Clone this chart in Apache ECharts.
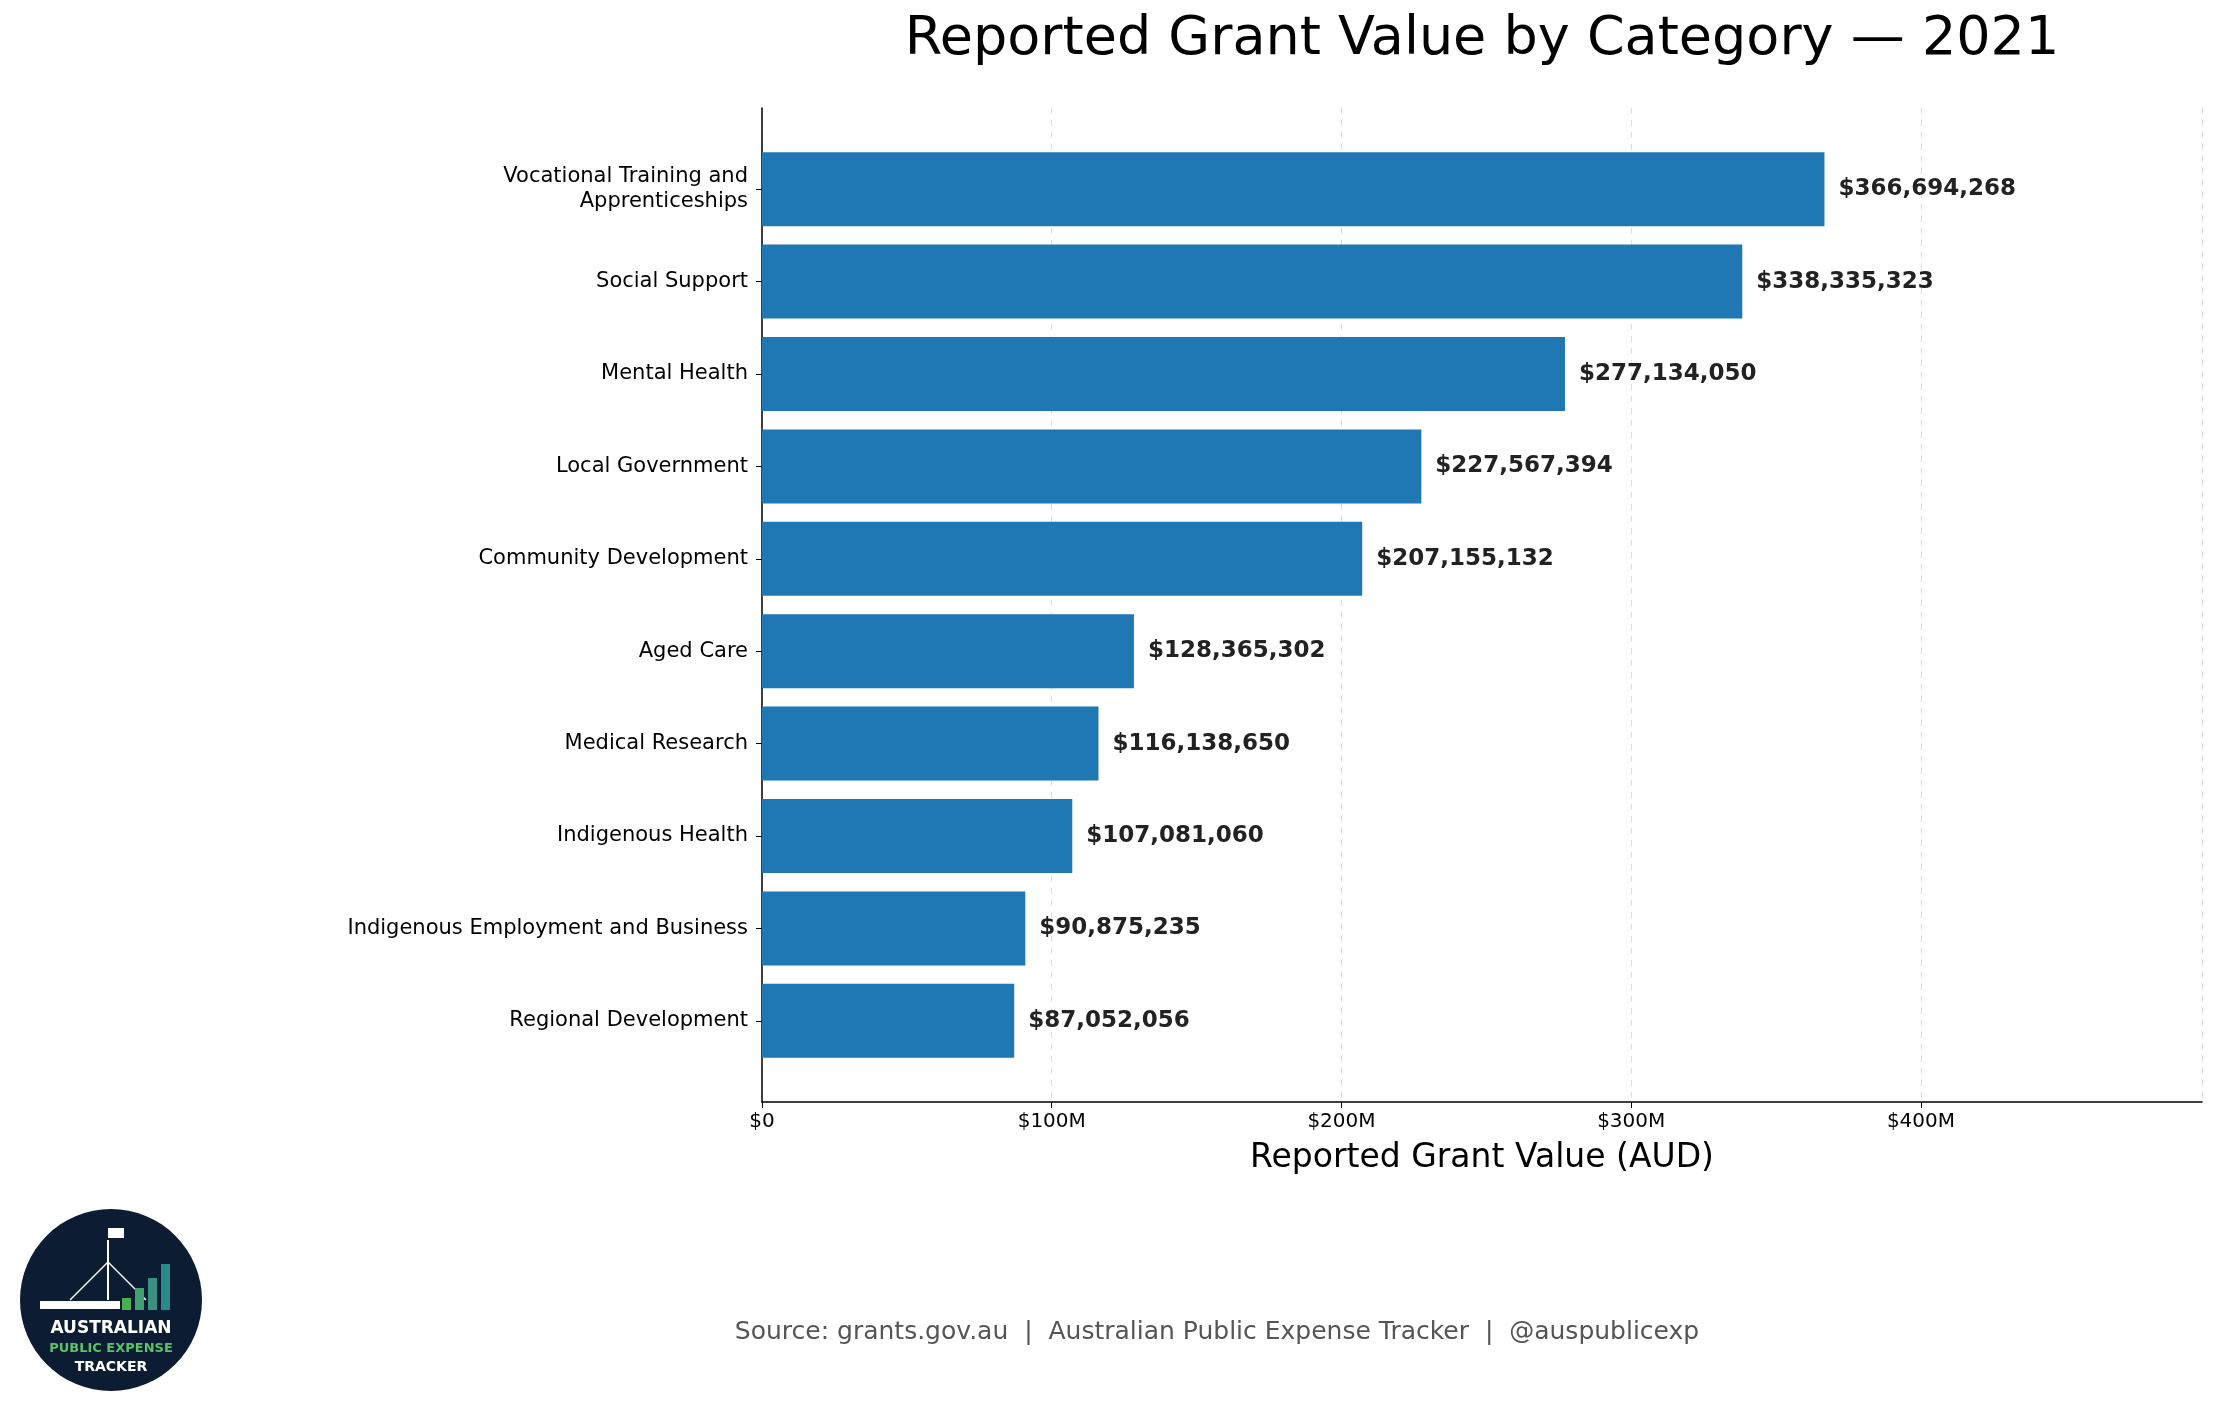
<!DOCTYPE html>
<html><head><meta charset="utf-8">
<script src="https://cdn.jsdelivr.net/npm/echarts@6/dist/echarts.min.js"></script>
<style>html,body{margin:0;padding:0;background:#fff}#c{width:2215px;height:1405px}</style>
</head><body><div id="c"></div>
<script>
const categories = ["Vocational Training and\nApprenticeships","Social Support","Mental Health","Local Government","Community Development","Aged Care","Medical Research","Indigenous Health","Indigenous Employment and Business","Regional Development"];
const values = [366694268,338335323,277134050,227567394,207155132,128365302,116138650,107081060,90875235,87052056];
const xMax = 497e6, xStep = 100e6;
const font = "DejaVu Sans";
const fmtTick = v => v===0 ? '$0' : '$'+(v/1e6)+'M';
const chart = echarts.init(document.getElementById('c'));
chart.setOption({
  animation:false,
  textStyle:{fontFamily:font},
  title:{text:"Reported Grant Value by Category \u2014 2021",left:1477,top:8,textAlign:'center',
    textStyle:{fontSize:54,fontWeight:'normal',color:'#000',fontFamily:font}},
  grid:[{left:762,right:13,top:143,bottom:338},{left:762,right:13,top:108,bottom:303}],
  xAxis:[
    {gridIndex:0,type:'value',min:0,max:xMax,interval:xStep,offset:35,
      name:"Reported Grant Value (AUD)",nameLocation:'middle',nameGap:40,
      nameTextStyle:{fontSize:33,color:'#000',fontFamily:font},
      axisLine:{show:true,lineStyle:{color:'#000',width:1.5}},
      axisTick:{show:true,length:6,lineStyle:{color:'#000'}},
      axisLabel:{fontSize:20,color:'#000',margin:10,showMaxLabel:false,formatter:fmtTick},
      splitLine:{show:false}},
    {gridIndex:1,type:'value',min:0,max:xMax,interval:xStep,show:true,
      axisLine:{show:false},axisTick:{show:false},axisLabel:{show:false},
      splitLine:{show:true,lineStyle:{color:'#ddd',type:[6,6],width:1}}}
  ],
  yAxis:[
    {gridIndex:0,type:'category',inverse:true,data:categories,
      axisLine:{show:false},
      axisTick:{show:true,length:6,alignWithLabel:true,lineStyle:{color:'#000'}},
      axisLabel:{fontSize:21,color:'#000',margin:14,lineHeight:25}},
    {gridIndex:1,type:'value',min:0,max:1,
      axisLine:{show:true,lineStyle:{color:'#000',width:1.5}},
      axisTick:{show:false},axisLabel:{show:false},splitLine:{show:false}}
  ],
  series:[{type:'bar',xAxisIndex:0,yAxisIndex:0,barWidth:74,itemStyle:{color:'#1f77b4'},
    data:values,
    label:{show:true,position:'right',distance:14,fontSize:23,fontWeight:'bold',color:'#222',
      formatter:p=>'$'+p.value.toLocaleString('en-US')}}],
  graphic:[
    {type:'text',style:{text:"Source: grants.gov.au  |  Australian Public Expense Tracker  |  @auspublicexp",x:1217,y:1332,align:'center',verticalAlign:'middle',fontSize:25,fill:'#555',fontFamily:font}},
    {type:'group',children:[
      {type:'circle',shape:{cx:111,cy:1300,r:91},style:{fill:'#0b1c33'}},
      {type:'rect',shape:{x:40,y:1301,width:80,height:8},style:{fill:'#fff'}},
      {type:'line',shape:{x1:108,y1:1240,x2:108,y2:1300},style:{stroke:'#fff',lineWidth:2}},
      {type:'rect',shape:{x:108,y:1228,width:16,height:10},style:{fill:'#fff'}},
      {type:'line',shape:{x1:108,y1:1262,x2:70,y2:1300},style:{stroke:'#fff',lineWidth:1.5}},
      {type:'line',shape:{x1:108,y1:1262,x2:146,y2:1300},style:{stroke:'#fff',lineWidth:1.5}},
      {type:'rect',shape:{x:122,y:1298,width:9,height:12},style:{fill:'#4caf50'}},
      {type:'rect',shape:{x:135,y:1288,width:9,height:22},style:{fill:'#43a070'}},
      {type:'rect',shape:{x:148,y:1278,width:9,height:32},style:{fill:'#3a9080'}},
      {type:'rect',shape:{x:161,y:1264,width:9,height:46},style:{fill:'#2a8a8a'}},
      {type:'text',style:{text:'AUSTRALIAN',x:111,y:1329,align:'center',verticalAlign:'middle',fontSize:17,fontWeight:'bold',fill:'#fff',fontFamily:font}},
      {type:'text',style:{text:'PUBLIC EXPENSE',x:111,y:1349,align:'center',verticalAlign:'middle',fontSize:13,fontWeight:'bold',fill:'#5cc26a',fontFamily:font}},
      {type:'text',style:{text:'TRACKER',x:111,y:1367,align:'center',verticalAlign:'middle',fontSize:14,fontWeight:'bold',fill:'#fff',fontFamily:font}}
    ]}
  ]
});
</script></body></html>
